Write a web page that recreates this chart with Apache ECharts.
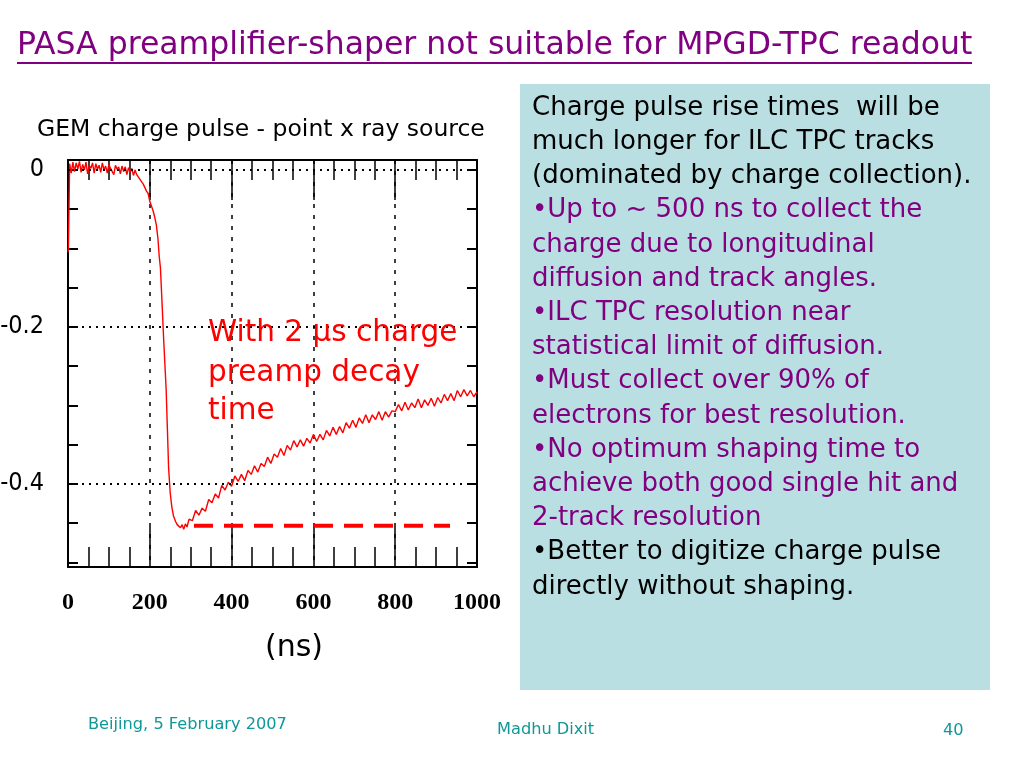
<!DOCTYPE html>
<html>
<head>
<meta charset="utf-8">
<script src="https://cdn.jsdelivr.net/npm/echarts@6/dist/echarts.min.js"></script>
<style>
html,body{margin:0;padding:0;background:#fff;}
#c{width:1024px;height:768px;}
</style>
</head>
<body>
<div id="c"></div>
<script>
// ---- data ----
const pulseTimes = [0,1,4,8,12,16,20,24,28,32,36,40,44,48,52,56,60,64,68,72,76,80,84,88,92,96,100,104,108,112,116,120,124,128,132,136,140,144,148,152,156,160,164,168,
  172,176,180,184,188,192,196,200,204,208,212,216,220,223,226,230,234,238,240,243,246,250,254,258,263,267,271,275,279,283,287,291,
  296,304,312,320,328,336,344,352,360,368,376,384,392,400,408,416,424,432,440,448,456,464,472,480,488,496,504,512,520,528,536,544,552,560,568,576,584,592,
  600,608,616,624,632,640,648,656,664,672,680,688,696,704,712,720,728,736,744,752,760,768,776,784,792,800,808,816,824,832,840,848,856,864,872,880,888,896,
  904,912,920,928,936,944,952,960,968,976,984,992,1000];
const pulseCharge = [-0.105,-0.1,0.008,-0.004,0.010,-0.002,0.009,0.001,0.011,-0.003,0.007,0.000,0.010,-0.005,0.006,0.002,0.009,-0.004,0.008,0.001,0.006,-0.003,0.009,0.000,0.005,-0.004,0.007,0.002,0.004,-0.006,0.006,0.001,0.004,-0.005,0.005,-0.002,0.004,-0.006,0.003,-0.003,0.002,-0.007,0.000,-0.006,
  -0.006,-0.012,-0.010,-0.018,-0.020,-0.027,-0.030,-0.040,-0.046,-0.052,-0.060,-0.070,-0.088,-0.110,-0.125,-0.170,-0.217,-0.259,-0.280,-0.330,-0.380,-0.412,-0.430,-0.441,-0.448,-0.452,-0.450,-0.456,-0.452,-0.458,-0.451,-0.455,
  -0.445,-0.447,-0.434,-0.440,-0.431,-0.435,-0.420,-0.424,-0.413,-0.418,-0.402,-0.408,-0.398,-0.403,-0.390,-0.397,-0.388,-0.396,-0.383,-0.388,-0.377,-0.385,-0.374,-0.378,-0.366,-0.374,-0.362,-0.366,-0.355,-0.364,-0.351,-0.357,-0.345,-0.353,-0.344,-0.352,-0.342,-0.348,
  -0.337,-0.346,-0.337,-0.344,-0.332,-0.339,-0.328,-0.337,-0.327,-0.335,-0.322,-0.329,-0.319,-0.328,-0.316,-0.323,-0.312,-0.322,-0.312,-0.318,-0.308,-0.319,-0.308,-0.315,-0.307,-0.308,-0.299,-0.307,-0.296,-0.306,-0.297,-0.303,-0.292,-0.303,-0.293,-0.300,-0.291,-0.301,
  -0.290,-0.297,-0.286,-0.294,-0.285,-0.294,-0.281,-0.289,-0.280,-0.288,-0.281,-0.289,-0.283];
const levelTimes = [308, 934];
const levelCharge = [-0.4535, -0.4535];
const gridLevels = [0, -0.2, -0.4];
const yTickValues = [0,-0.05,-0.1,-0.15,-0.2,-0.25,-0.3,-0.35,-0.4,-0.45,-0.5];
const yLabelValues = [0, -0.2, -0.4];
const xMin = 0, xMax = 1000, xStep = 200;
const yMin = -0.506, yMax = 0.0127;

const titleText = 'PASA preamplifier-shaper not suitable for MPGD-TPC readout';
const subtitleText = 'GEM charge pulse - point x ray source';
const noteLines = ['With 2 \u03bcs charge', 'preamp decay', 'time'];
const unitText = '(ns)';
const boxLines = [
  ['Charge pulse rise times  will be', 'k'],
  ['much longer for ILC TPC tracks', 'k'],
  ['(dominated by charge collection).', 'k'],
  ['\u2022Up to ~ 500 ns to collect the', 'p'],
  ['charge due to longitudinal', 'p'],
  ['diffusion and track angles.', 'p'],
  ['\u2022ILC TPC resolution near', 'p'],
  ['statistical limit of diffusion.', 'p'],
  ['\u2022Must collect over 90% of', 'p'],
  ['electrons for best resolution.', 'p'],
  ['\u2022No optimum shaping time to', 'p'],
  ['achieve both good single hit and', 'p'],
  ['2-track resolution', 'p'],
  ['\u2022Better to digitize charge pulse', 'k'],
  ['directly without shaping.', 'k']
];
const footerLeft = 'Beijing, 5 February 2007';
const footerMid = 'Madhu Dixit';
const footerRight = '40';

// ---- build ----
const PURPLE = '#800080';
const TEAL = '#0f9898';
const SLIDE_FONT = 'DejaVu Sans';

const pulseData = pulseTimes.map((t, i) => [t, pulseCharge[i]]);
const levelData = levelTimes.map((t, i) => [t, levelCharge[i]]);

const graphics = [];
graphics.push({type:'rect', shape:{x:520, y:84, width:470, height:606}, style:{fill:'#b9dfe2'}, z:-10});
graphics.push({type:'text', x:17, y:46, style:{text:titleText, font:'31.5px "' + SLIDE_FONT + '"', fill:PURPLE, textVerticalAlign:'middle', textAlign:'left'}});
graphics.push({type:'line', shape:{x1:17, y1:63, x2:972, y2:63}, style:{stroke:PURPLE, lineWidth:2}});
graphics.push({type:'text', x:37, y:130, style:{text:subtitleText, font:'23.5px "' + SLIDE_FONT + '"', fill:'#000', textVerticalAlign:'middle'}});
const noteY = [333, 373, 411];
noteLines.forEach((s, i) => graphics.push({type:'text', x:208, y:noteY[i], z:50, style:{text:s, font:'29.5px "' + SLIDE_FONT + '"', fill:'#ff0000', textVerticalAlign:'middle'}}));
graphics.push({type:'text', x:294, y:648, style:{text:unitText, font:'30px "' + SLIDE_FONT + '"', fill:'#000', textVerticalAlign:'middle', textAlign:'center'}});
boxLines.forEach((l, i) => graphics.push({type:'text', x:532, y:108 + i * 34.2, style:{text:l[0], font:'26px "' + SLIDE_FONT + '"', fill: l[1] === 'k' ? '#000' : PURPLE, textVerticalAlign:'middle'}}));
graphics.push({type:'text', x:88, y:725, style:{text:footerLeft, font:'16.2px "' + SLIDE_FONT + '"', fill:TEAL, textVerticalAlign:'middle'}});
graphics.push({type:'text', x:497, y:730, style:{text:footerMid, font:'16.2px "' + SLIDE_FONT + '"', fill:TEAL, textVerticalAlign:'middle'}});
graphics.push({type:'text', x:943, y:731, style:{text:footerRight, font:'16.2px "' + SLIDE_FONT + '"', fill:TEAL, textVerticalAlign:'middle'}});

const chart = echarts.init(document.getElementById('c'));
const xCommon = {
  type:'value', min:xMin, max:xMax, interval:xStep,
  axisLine:{show:true, onZero:false, lineStyle:{color:'#000', width:2}},
  axisTick:{show:true, inside:true, length:40, lineStyle:{color:'#000', width:1.5}},
  minorTick:{show:true, splitNumber:4, length:20, lineStyle:{color:'#000', width:1.5}}
};
const yCommon = {
  type:'value', min:yMin, max:yMax,
  axisLine:{show:true, onZero:false, lineStyle:{color:'#000', width:2}},
  axisTick:{show:true, inside:true, length:10, customValues:yTickValues, lineStyle:{color:'#000', width:2}},
  splitLine:{show:false}
};
chart.setOption({
  animation:false,
  backgroundColor:'#ffffff',
  grid:{left:68, top:160, width:409, height:407, containLabel:false, outerBoundsMode:'none'},
  xAxis:[
    Object.assign({}, xCommon, {position:'bottom',
      axisLabel:{show:true, margin:24, fontFamily:'Liberation Serif', fontWeight:'bold', fontSize:24, color:'#000',
        formatter: v => String(Math.round(v))},
      splitLine:{show:true, lineStyle:{color:'#000', width:1.5, type:[4,7]}}}),
    Object.assign({}, xCommon, {position:'top', axisLabel:{show:false}, splitLine:{show:false}})
  ],
  yAxis:[
    Object.assign({}, yCommon, {position:'left',
      axisLabel:{show:true, customValues:yLabelValues, margin:24, fontFamily:'"DejaVu Sans Condensed", "Liberation Sans", sans-serif', fontSize:25, color:'#000',
        formatter: v => (Math.abs(v) < 1e-9 ? '0' : v.toFixed(1))}}),
    Object.assign({}, yCommon, {position:'right', axisLabel:{show:false}})
  ],
  series:[
    {
      type:'line', name:'levels', data:levelData, xAxisIndex:0, yAxisIndex:0, z:2,
      symbol:'none', silent:true, clip:false,
      lineStyle:{color:'#ff0000', width:4, type:[19,11]},
      markLine:{silent:true, symbol:'none', label:{show:false},
        lineStyle:{color:'#000', width:2, type:[2,5]},
        data: gridLevels.map(v => ({yAxis:v}))}
    },
    {
      type:'line', name:'pulse', data:pulseData, xAxisIndex:0, yAxisIndex:0, z:3,
      symbol:'none', silent:true, clip:false,
      lineStyle:{color:'#ff0000', width:1.4}
    }
  ],
  graphic: graphics
});
</script>
</body>
</html>
